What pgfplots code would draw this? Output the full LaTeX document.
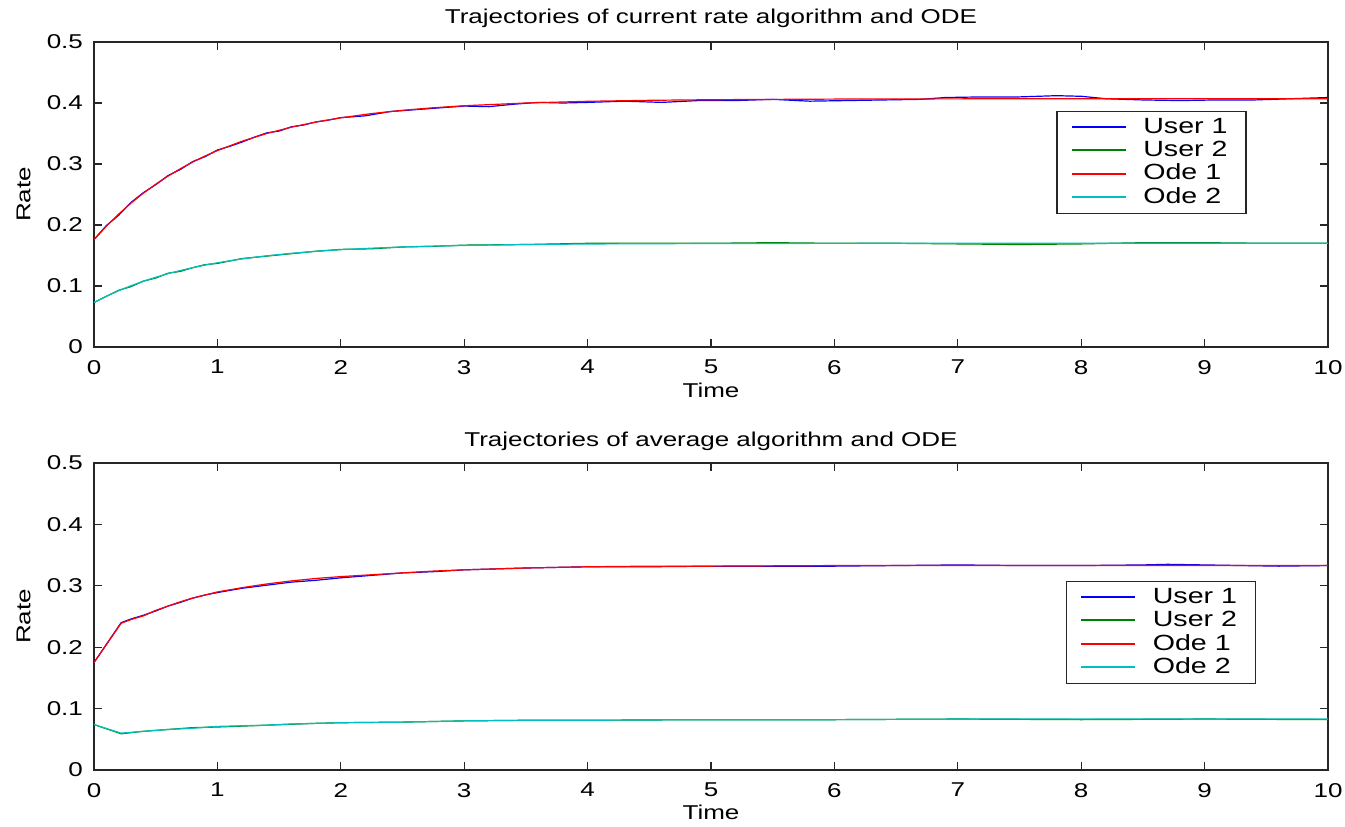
\documentclass[border=0pt]{standalone}
\usepackage{fontspec}
\setmainfont{Liberation Sans}[FakeStretch=1.3]
\usepackage{pgfplots}
\pgfplotsset{compat=1.18}

\definecolor{mblue}{rgb}{0,0,1}
\definecolor{mgreen}{rgb}{0,0.5,0}
\definecolor{mred}{rgb}{1,0,0}
\definecolor{mcyan}{rgb}{0,0.75,0.75}

\pgfplotsset{
  rateaxis/.style={
    scale only axis,
    width=617pt,
    xmin=0, xmax=10, ymin=0, ymax=0.5,
    xtick={0,1,...,10},
    ytick={0,0.1,0.2,0.3,0.4,0.5},
    yticklabels={0,0.1,0.2,0.3,0.4,0.5},
    tick align=inside,
    major tick length=4pt,
    axis line style={black!85, line width=0.6pt},
    every tick/.style={black!85, line width=0.6pt},
    font=\fontsize{10}{12}\selectfont,
    /pgf/number format/assume math mode=true,
    yticklabel style={xshift=-2pt},
    xticklabel style={yshift=-3pt},
    xlabel={Time},
    ylabel={Rate},
    xlabel style={at={(axis description cs:0.5,-0.141)}, anchor=center},
    ylabel style={at={(axis description cs:-0.057,0.5)}, anchor=center, rotate=0},
    legend cell align=left,
    legend style={draw=black!85, line width=0.6pt, fill=white,
      font=\fontsize{11}{13}\selectfont,
      inner xsep=7pt, inner ysep=1pt, row sep=-2pt, column sep=6pt,
      nodes={inner sep=2.2pt}},
    legend image code/.code={\draw[#1, line width=1pt] (0pt,0pt) -- (27pt,0pt);},
    every axis plot/.append style={line width=0.6pt},
  }
}

\begin{document}
\begin{tikzpicture}
\useasboundingbox (-47pt,-28pt) rectangle (625.5pt,385pt);

\begin{axis}[rateaxis,
  at={(0pt,211.5pt)}, anchor=south west,
  height=152.5pt,
  title={Trajectories of current rate algorithm and ODE},
  title style={at={(axis description cs:0.5,1.037)}, anchor=center},
  legend style={at={(axis description cs:0.934,0.774)}, anchor=north east},
]
% user 1
\addplot[mblue] coordinates {
(0,0.176) (0.1,0.199) (0.2,0.216) (0.3,0.237) (0.4,0.253) (0.5,0.266)
(0.6,0.281) (0.7,0.291) (0.8,0.304) (0.9,0.312) (1.0,0.323) (1.1,0.329)
(1.2,0.336) (1.3,0.344) (1.4,0.351) (1.5,0.354) (1.6,0.361) (1.7,0.364)
(1.8,0.369) (1.9,0.372) (2.0,0.376) (2.2,0.379) (2.4,0.386) (2.6,0.389)
(2.8,0.392) (3.0,0.395) (3.2,0.394) (3.4,0.398) (3.6,0.401) (3.8,0.400)
(4.0,0.401) (4.3,0.403) (4.6,0.401) (4.9,0.404) (5.2,0.404) (5.5,0.406)
(5.8,0.403) (6.1,0.404) (6.4,0.405) (6.7,0.406) (6.9,0.409) (7.2,0.410)
(7.5,0.410) (7.8,0.412) (8.0,0.411) (8.2,0.407) (8.5,0.405) (8.8,0.404)
(9.1,0.405) (9.4,0.405) (9.7,0.407) (10.0,0.409)
};
\addlegendentry{User 1}
% user 2
\addplot[mgreen] coordinates {
(0,0.073) (0.1,0.083) (0.2,0.093) (0.3,0.099) (0.4,0.108) (0.5,0.113)
(0.6,0.121) (0.7,0.124) (0.8,0.130) (0.9,0.135) (1.0,0.137) (1.2,0.145)
(1.4,0.149) (1.6,0.153) (1.8,0.157) (2.0,0.160) (2.25,0.161) (2.5,0.164)
(2.75,0.165) (3.0,0.167) (3.5,0.168) (4.0,0.170) (4.5,0.170) (5.0,0.170)
(5.5,0.171) (6.0,0.170) (6.5,0.170) (7.0,0.169) (7.5,0.168) (8.0,0.169)
(8.5,0.171) (9.0,0.171) (9.5,0.170) (10,0.170)
};
\addlegendentry{User 2}
% ode 1
\addplot[mred] coordinates {
(0,0.1760) (0.1,0.1980) (0.2,0.2179) (0.3,0.2359) (0.4,0.2522) (0.5,0.2669)
(0.6,0.2802) (0.7,0.2923) (0.8,0.3032) (0.9,0.3131) (1.0,0.3220) (1.2,0.3374)
(1.4,0.3500) (1.6,0.3604) (1.8,0.3688) (2.0,0.3757) (2.25,0.3827) (2.5,0.3880)
(2.75,0.3922) (3.0,0.3955) (3.5,0.4000) (4.0,0.4028) (4.5,0.4044) (5,0.4054)
(6,0.4064) (7,0.4068) (8,0.4070) (10,0.4070)
};
\addlegendentry{Ode 1}
% ode 2
\addplot[mcyan] coordinates {
(0,0.0730) (0.1,0.0832) (0.2,0.0923) (0.3,0.1005) (0.4,0.1078) (0.5,0.1143)
(0.6,0.1202) (0.7,0.1254) (0.8,0.1301) (0.9,0.1343) (1.0,0.1381) (1.2,0.1444)
(1.4,0.1495) (1.6,0.1536) (1.8,0.1569) (2.0,0.1595) (2.25,0.1620) (2.5,0.1640)
(2.75,0.1654) (3.0,0.1665) (3.5,0.1680) (4.0,0.1689) (4.5,0.1693) (5,0.1696)
(6,0.1699) (7,0.1700) (10,0.1700)
};
\addlegendentry{Ode 2}
\end{axis}

\begin{axis}[rateaxis,
  at={(0pt,0pt)}, anchor=south west,
  height=153.5pt,
  title={Trajectories of average algorithm and ODE},
  title style={at={(axis description cs:0.5,1.033)}, anchor=center},
  xlabel style={at={(axis description cs:0.5,-0.137)}},
  legend style={at={(axis description cs:0.9417,0.6156)}, anchor=north east},
]
% user 1
\addplot[mblue] coordinates {
(0,0.175) (0.22,0.240) (0.3,0.246) (0.4,0.252) (0.5,0.259) (0.6,0.267)
(0.7,0.273) (0.8,0.280) (0.9,0.285) (1.0,0.289) (1.2,0.296) (1.4,0.301)
(1.6,0.306) (1.8,0.309) (2.0,0.313) (2.25,0.317) (2.5,0.321) (2.75,0.323)
(3.0,0.326) (3.5,0.329) (4.0,0.331) (4.5,0.331) (5.0,0.332) (5.5,0.332)
(6.0,0.332) (6.5,0.333) (7.0,0.334) (7.5,0.333) (8.0,0.333) (8.5,0.334)
(8.7,0.335) (9.0,0.334) (9.3,0.333) (9.6,0.332) (10,0.333)
};
\addlegendentry{User 1}
% user 2
\addplot[mgreen] coordinates {
(0,0.074) (0.22,0.059) (0.4,0.063) (0.6,0.066) (0.8,0.069) (1.0,0.070)
(1.4,0.073) (1.8,0.076) (2.0,0.077) (2.5,0.078) (3.0,0.080) (3.5,0.081)
(4.0,0.081) (5.0,0.082) (6.0,0.082) (7.0,0.083) (8.0,0.082) (9.0,0.083)
(10,0.082)
};
\addlegendentry{User 2}
% ode 1
\addplot[mred] coordinates {
(0,0.175) (0.22,0.239) (0.3,0.245) (0.4,0.251) (0.5,0.260) (0.6,0.267)
(0.7,0.274) (0.8,0.280) (0.9,0.285) (1.0,0.290) (1.2,0.297) (1.4,0.303)
(1.6,0.308) (1.8,0.312) (2.0,0.315) (2.25,0.318) (2.5,0.321) (2.75,0.324)
(3.0,0.326) (3.5,0.329) (4,0.331) (4.5,0.332) (5,0.332) (6,0.333)
(7,0.333) (8,0.333) (9,0.333) (10,0.333)
};
\addlegendentry{Ode 1}
% ode 2
\addplot[mcyan] coordinates {
(0,0.074) (0.22,0.060) (0.4,0.063) (0.6,0.066) (0.8,0.068) (1.0,0.071)
(1.2,0.072) (1.4,0.073) (1.6,0.075) (1.8,0.076) (2.0,0.077) (2.5,0.078)
(3.0,0.080) (3.5,0.081) (4.0,0.081) (5.0,0.082) (6.0,0.082) (7,0.083)
(8,0.083) (10,0.083)
};
\addlegendentry{Ode 2}
\end{axis}
\end{tikzpicture}
\end{document}
